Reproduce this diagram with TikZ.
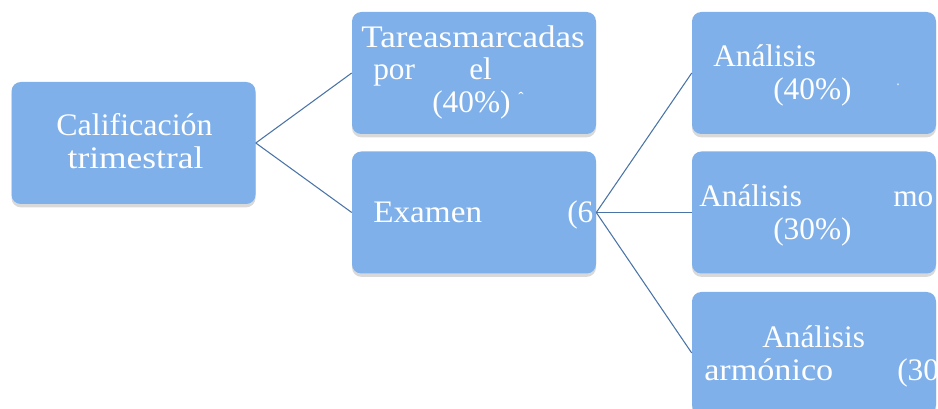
\documentclass[tikz,border=0pt]{standalone}
\usepackage{fontspec}
\setmainfont{Liberation Serif}
\usetikzlibrary{shadows}
\definecolor{boxblue}{HTML}{7FB0EA}
\definecolor{linkblue}{HTML}{4A74A8}
\begin{document}
\begin{tikzpicture}[x=0.75pt,y=-0.75pt,
  box/.style={fill=boxblue, draw=none, rounded corners=7pt, minimum width=183pt, minimum height=91.5pt, inner sep=0pt,
    drop shadow={shadow xshift=0pt, shadow yshift=-2.5pt, opacity=0.15, fill=black}},
  txt/.style={text=white, font=\fontsize{23.5}{28}\selectfont, anchor=base west, inner sep=0pt},
  tick/.style={text=white, font=\fontsize{12}{14}\selectfont, inner sep=0pt},
  link/.style={draw=linkblue, line width=0.8pt}]
\useasboundingbox (0,0) rectangle (938,409);
\clip (0,0) rectangle (938,409);
% boxes
\node[box] (root) at (133.5,143) {};
\node[box] (tareas) at (474,73) {};
\node[box] (examen) at (474,212.5) {};
\node[box] (a1) at (814,73) {};
\node[box] (a2) at (814,212.5) {};
\node[box] (a3) at (814,353) {};
% connectors
\draw[link] (root.east) -- (tareas.west);
\draw[link] (root.east) -- (examen.west);
\draw[link] (examen.east) -- (a1.west);
\draw[link] (examen.east) -- (a2.west);
\draw[link] (examen.east) -- (a3.west);
% texts
\begin{scope}
\clip[rounded corners=7pt] (root.south west) rectangle (root.north east);
\node[txt, anchor=base] (t0a) at (134.5,136) {\scalebox{1.02}[1]{Calificación}};
\node[txt, anchor=base] (t0b) at (135.5,169) {\scalebox{1.13}[1]{trimestral}};
\end{scope}
\begin{scope}
\clip[rounded corners=7pt] (tareas.south west) rectangle (tareas.north east);
\node[txt] (t1a) at (361,48) {\scalebox{1.12}[1]{Tareasmarcadas}};
\node[txt] (t1b) at (373,80) {por};
\node[txt] (t1c) at (469,80) {el};
\node[txt] (t1d) at (432,113) {(40\%)};
\node[tick] (t1e) at (521,98) {ˆ};
\end{scope}
\begin{scope}
\clip[rounded corners=7pt] (examen.south west) rectangle (examen.north east);
\node[txt] (t2a) at (373,223) {\scalebox{1.06}[1]{Examen}};
\node[txt] (t2b) at (567,223) {(6};
\end{scope}
\begin{scope}
\clip[rounded corners=7pt] (a1.south west) rectangle (a1.north east);
\node[txt] (t3a) at (713,67) {Análisis};
\node[txt] (t3b) at (773,100) {(40\%)};
\node[tick] (t3c) at (898,88) {ˑ};
\end{scope}
\begin{scope}
\clip[rounded corners=7pt] (a2.south west) rectangle (a2.north east);
\node[txt] (t4a) at (699,207) {Análisis};
\node[txt] (t4b) at (893,207) {mo};
\node[txt] (t4c) at (773,240) {(30\%)};
\end{scope}
\begin{scope}
\clip[rounded corners=7pt] (a3.south west) rectangle (a3.north east);
\node[txt] (t5a) at (762,348) {Análisis};
\node[txt] (t5b) at (704,380) {\scalebox{1.09}[1]{armónico}};
\node[txt] (t5c) at (897,380) {(30};
\end{scope}
\end{tikzpicture}
\end{document}
